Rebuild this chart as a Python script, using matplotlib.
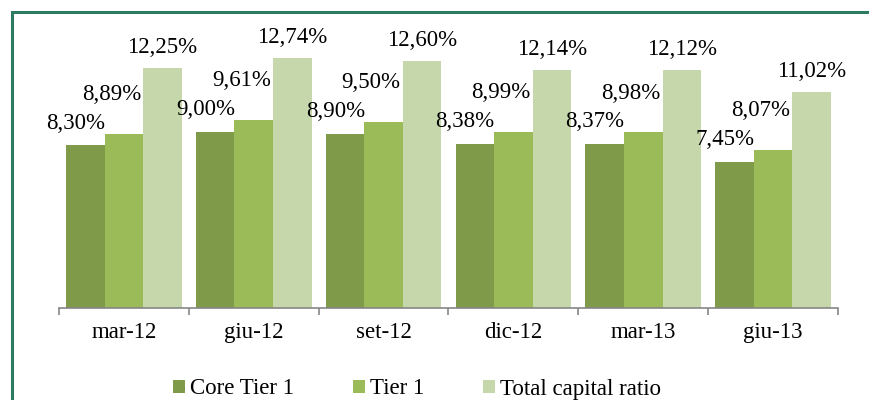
import matplotlib.pyplot as plt
import numpy as np
from matplotlib.patches import Rectangle

plt.rcParams['font.family'] = ['Liberation Serif', 'DejaVu Serif']

periods = ['mar-12', 'giu-12', 'set-12', 'dic-12', 'mar-13', 'giu-13']
core_tier1 = [8.30, 9.00, 8.90, 8.38, 8.37, 7.45]
tier1 = [8.89, 9.61, 9.50, 8.99, 8.98, 8.07]
total_capital = [12.25, 12.74, 12.60, 12.14, 12.12, 11.02]
series_names = ['Core Tier 1', 'Tier 1', 'Total capital ratio']

colors = ['#7f9a48', '#9bbb59', '#c5d7ab']
# label offsets (points) relative to bar top centre, per series
offsets = [(-7, 16), (-9, 28), (0, 15)]
FS = 16.5

fig = plt.figure(figsize=(8.7, 4.0), dpi=100)
ax = fig.add_axes([59 / 870, 92 / 400, (838 - 59) / 870, 14 * 19.6 / 400])

x = np.arange(len(periods))
width = 0.297
for i, (vals, name) in enumerate(zip([core_tier1, tier1, total_capital], series_names)):
    pos = x + (i - 1) * width
    ax.bar(pos, vals, width, color=colors[i], label=name, linewidth=0)
    for px, v in zip(pos, vals):
        ax.annotate(('%.2f%%' % v).replace('.', ','), (px, v),
                    xytext=offsets[i], textcoords='offset points',
                    ha='center', va='center', fontsize=FS, color='black')

ax.set_xlim(-0.5, len(periods) - 0.5)
ax.set_ylim(0, 14)
ax.set_yticks([])
for side in ['top', 'right', 'left']:
    ax.spines[side].set_visible(False)
ax.spines['bottom'].set_color('#868686')
ax.spines['bottom'].set_linewidth(1.2)

ax.set_xticks(x)
ax.set_xticklabels(periods, fontsize=FS)
ax.tick_params(axis='x', which='major', length=0, pad=10)
ax.set_xticks(np.arange(-0.5, len(periods)), minor=True)
ax.tick_params(axis='x', which='minor', length=5, width=1.2, color='#868686', direction='out')

fig.legend(loc='center', bbox_to_anchor=(417 / 870, 11 / 400), ncol=3, frameon=False,
           fontsize=FS, handlelength=0.52, handleheight=0.52, handletextpad=0.2,
           columnspacing=2.6, borderaxespad=0, borderpad=0)

# green frame, cut at right and bottom edges
fig.add_artist(Rectangle((12 / 870, -0.2), 1.0, 1.2 - 12 / 400, transform=fig.transFigure,
                         fill=False, edgecolor='#2e7b63', linewidth=2.2, clip_on=False))

fig.savefig('out.png', dpi=100)
